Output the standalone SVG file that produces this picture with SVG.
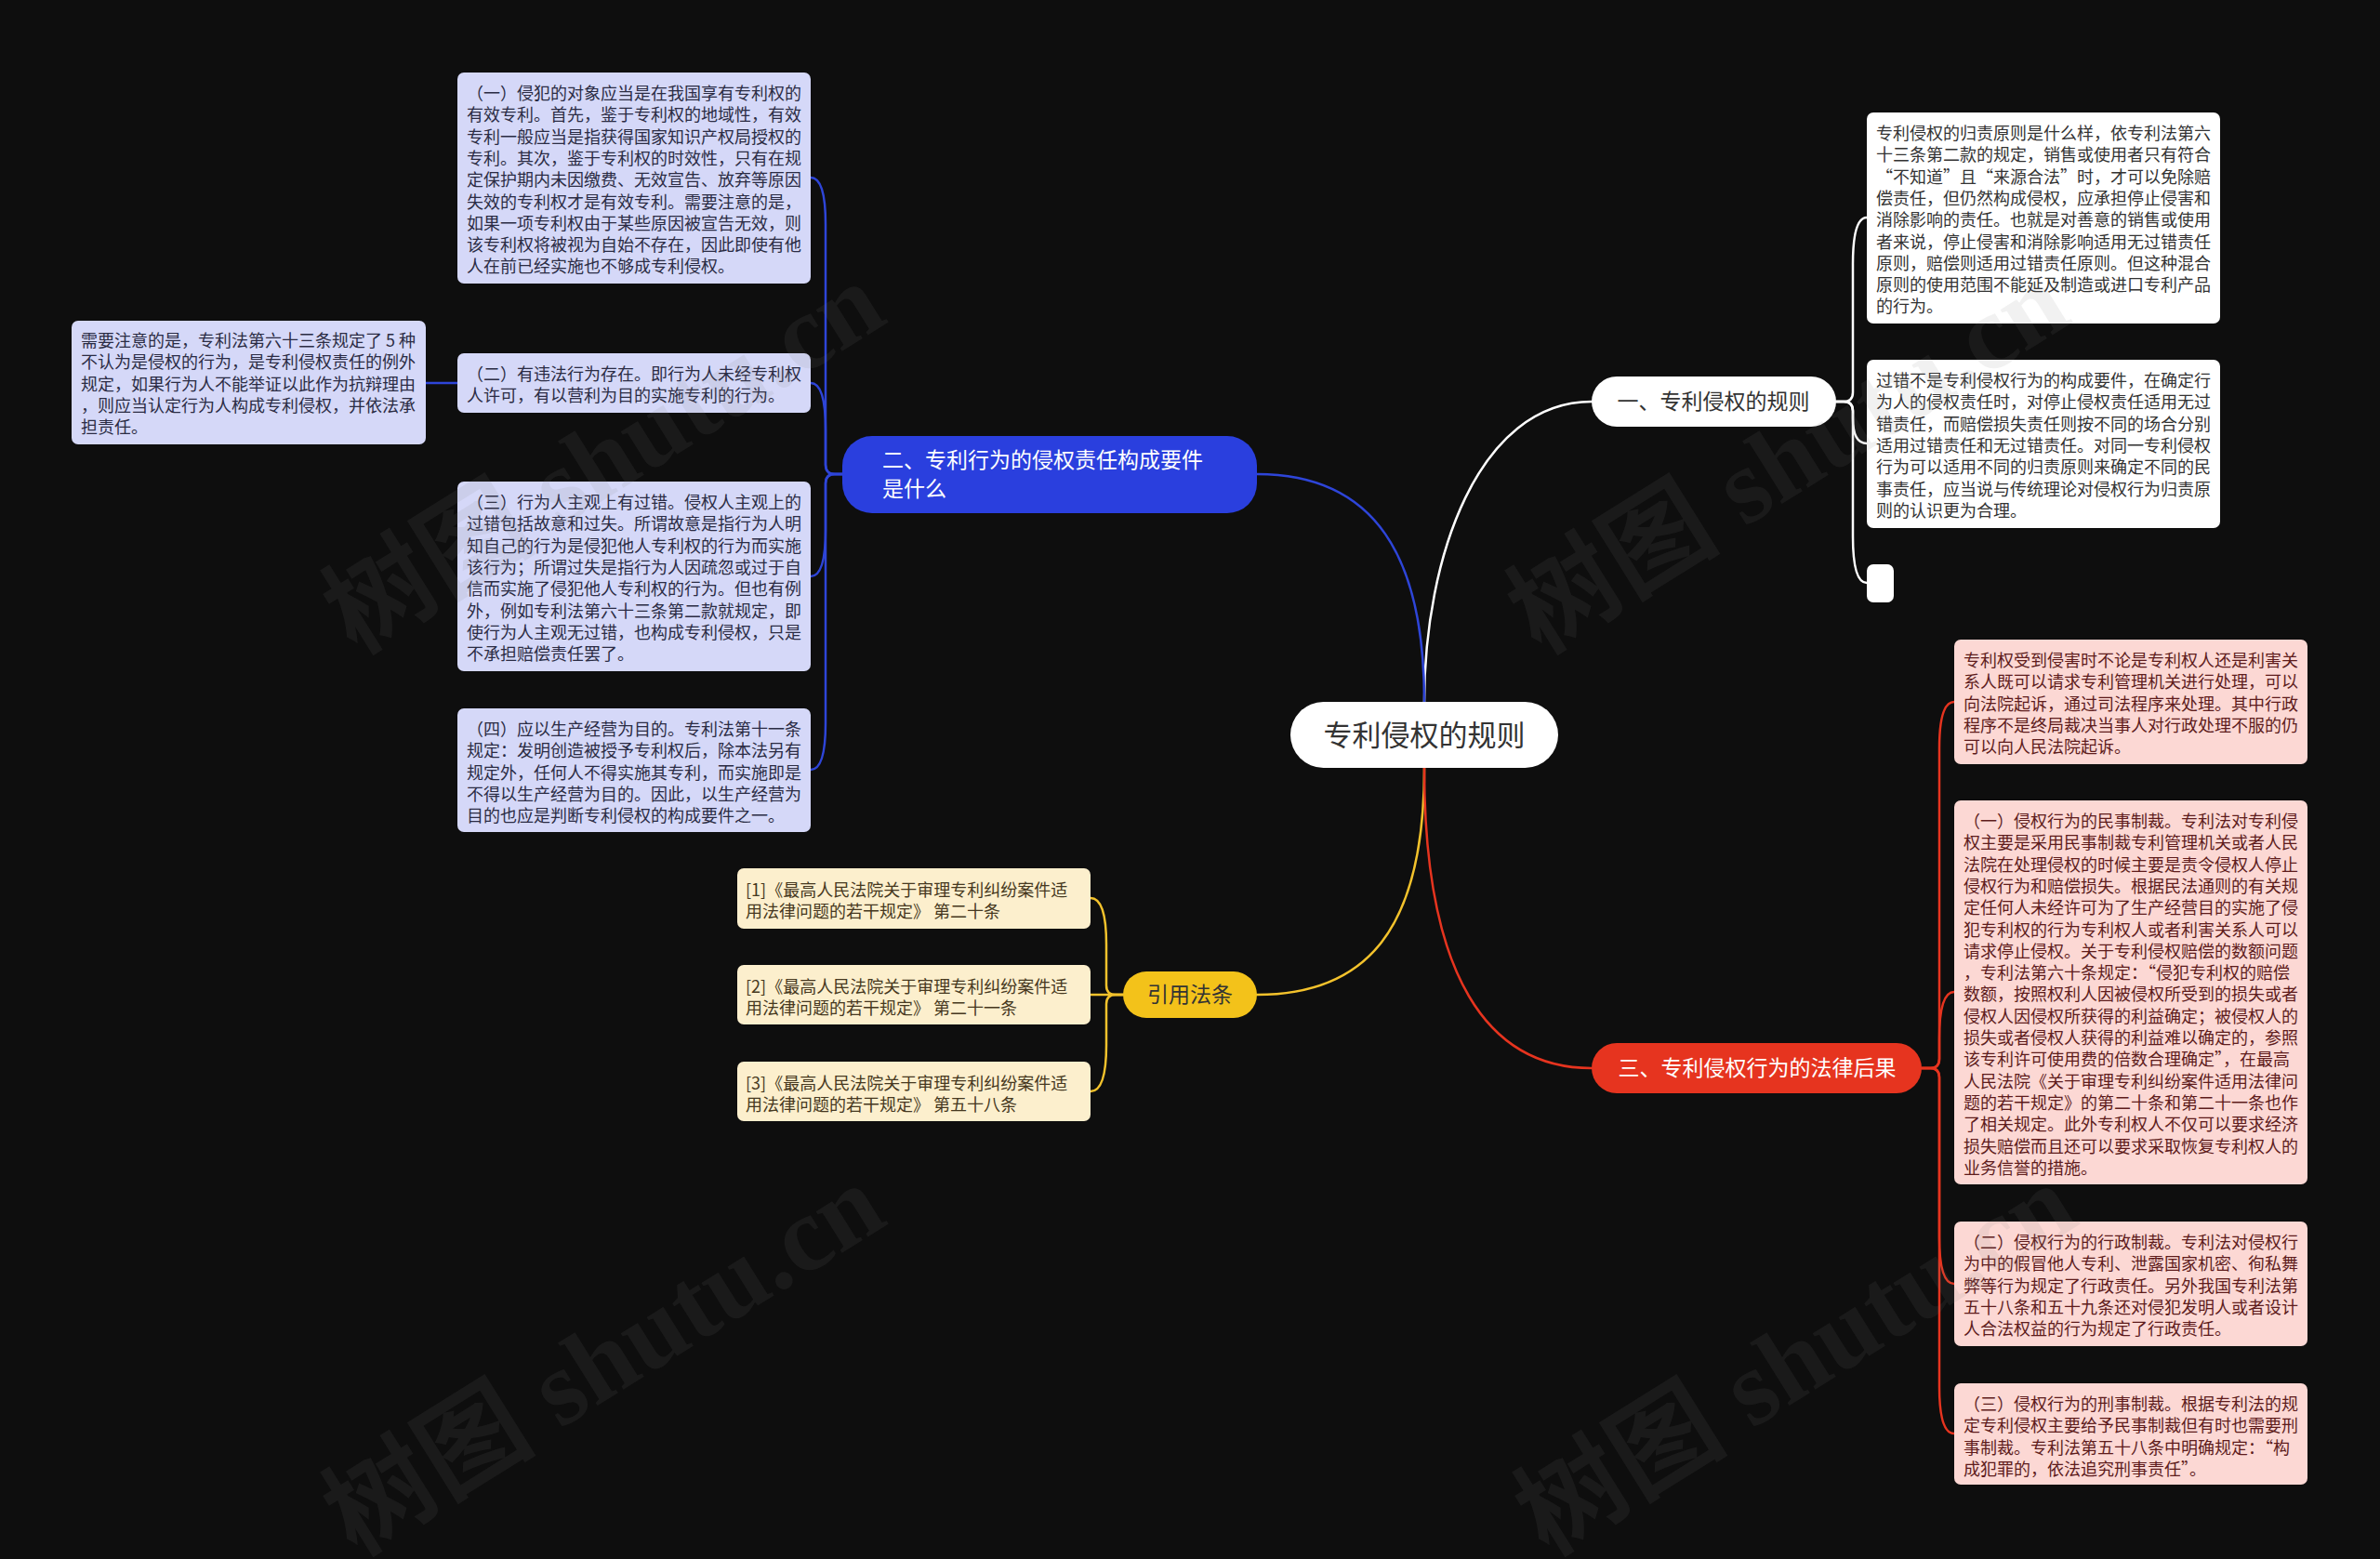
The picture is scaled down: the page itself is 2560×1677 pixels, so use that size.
<svg xmlns="http://www.w3.org/2000/svg" width="2560" height="1677" viewBox="0 0 2560 1677">
<style>
.t{font-family:"Noto Sans CJK SC","Noto Sans",sans-serif;font-size:18px}
.tb{fill:#2b2c44}.tw{fill:#333333}.tp{fill:#5e1c1c}.ty{fill:#463820}
.n{font-family:"Noto Sans CJK SC","Noto Sans",sans-serif;font-size:23px}
.c{fill:none;stroke-width:2.5;stroke-linecap:round}
.wm{font-family:"Liberation Serif","Noto Sans CJK SC",serif;font-size:115px;fill:#7f7f7f;fill-opacity:0.11;font-weight:bold}
</style>
<rect x="0" y="0" width="2560" height="1677" fill="#0e0e0e"/>
<g id="connectors">
<path class="c" stroke="#ffffff" stroke-width="3" d="M1532,755 C1532,600 1590,432 1712,432"/>
<path class="c" stroke="#2e45d8" stroke-width="3" d="M1532,755 C1532,600 1480,510 1352,510"/>
<path class="c" stroke="#f3c22c" stroke-width="3" d="M1532,826 C1532,1000 1470,1070 1352,1070"/>
<path class="c" stroke="#e6341f" stroke-width="3" d="M1532,826 C1532,1050 1600,1149 1712,1149"/>
<path class="c" stroke="#ffffff" d="M1975,432 H1983 Q1993,432 1993,422 V284 Q1993,234 2008,234"/>
<path class="c" stroke="#ffffff" d="M1975,432 H1983 Q1993,432 1993,442 V450 Q1993,477 2008,477"/>
<path class="c" stroke="#ffffff" d="M1975,432 H1983 Q1993,432 1993,442 V577 Q1993,627 2008,627"/>
<path class="c" stroke="#2e45d8" d="M906,510 H898 Q888,510 888,500 V241 Q888,191 872,191"/>
<path class="c" stroke="#2e45d8" d="M906,510 H898 Q888,510 888,500 V462 Q888,412 872,412"/>
<path class="c" stroke="#2e45d8" d="M906,510 H898 Q888,510 888,520 V570 Q888,620 872,620"/>
<path class="c" stroke="#2e45d8" d="M906,510 H898 Q888,510 888,520 V778 Q888,828 872,828"/>
<path class="c" stroke="#2e45d8" d="M492,412 H458"/>
<path class="c" stroke="#f3c22c" d="M1208,1070 H1200 Q1190,1070 1190,1060 V1016 Q1190,966 1173,966"/>
<path class="c" stroke="#f3c22c" d="M1208,1070 H1173"/>
<path class="c" stroke="#f3c22c" d="M1208,1070 H1200 Q1190,1070 1190,1080 V1124 Q1190,1174 1173,1174"/>
<path class="c" stroke="#e6341f" d="M2067,1149 H2076 Q2086,1149 2086,1139 V805 Q2086,755 2102,755"/>
<path class="c" stroke="#e6341f" d="M2067,1149 H2076 Q2086,1149 2086,1139 V1117 Q2086,1067 2102,1067"/>
<path class="c" stroke="#e6341f" d="M2067,1149 H2076 Q2086,1149 2086,1159 V1331 Q2086,1381 2102,1381"/>
<path class="c" stroke="#e6341f" d="M2067,1149 H2076 Q2086,1149 2086,1159 V1492 Q2086,1542 2102,1542"/>
</g>
<g id="root">
<rect x="1388" y="755" width="288" height="71" rx="35.5" fill="#ffffff"/>
<text x="1532" y="802" text-anchor="middle" font-family="Noto Sans CJK SC, sans-serif" font-size="31" fill="#333333">专利侵权的规则</text>
</g>
<g id="branch1">
<rect x="1712" y="405" width="263" height="54" rx="27" fill="#ffffff"/>
<text class="n" x="1843" y="440" text-anchor="middle" fill="#333333">一、专利侵权的规则</text>
</g>
<g id="branch2">
<rect x="906" y="469" width="446" height="83" rx="32" fill="#2a3fde"/>
<text class="n" fill="#ffffff"><tspan x="949" y="503">二、专利行为的侵权责任构成要件</tspan><tspan x="949" y="534">是什么</tspan></text>
</g>
<g id="branch3">
<rect x="1712" y="1122" width="355" height="54" rx="27" fill="#e6341f"/>
<text class="n" x="1890" y="1157" text-anchor="middle" fill="#ffffff">三、专利侵权行为的法律后果</text>
</g>
<g id="branch4">
<rect x="1208" y="1045" width="144" height="50" rx="25" fill="#f3c21a"/>
<text class="n" x="1280" y="1078" text-anchor="middle" fill="#333333">引用法条</text>
</g>
<g id="w1">
<rect x="2008" y="121" width="380" height="227" rx="7" fill="#ffffff"/>
<text class="t tw"><tspan x="2018" y="150">专利侵权的归责原则是什么样，依专利法第六</tspan><tspan x="2018" dy="23.3">十三条第二款的规定，销售或使用者只有符合</tspan><tspan x="2018" dy="23.3">“不知道”且“来源合法”时，才可以免除赔</tspan><tspan x="2018" dy="23.3">偿责任，但仍然构成侵权，应承担停止侵害和</tspan><tspan x="2018" dy="23.3">消除影响的责任。也就是对善意的销售或使用</tspan><tspan x="2018" dy="23.3">者来说，停止侵害和消除影响适用无过错责任</tspan><tspan x="2018" dy="23.3">原则，赔偿则适用过错责任原则。但这种混合</tspan><tspan x="2018" dy="23.3">原则的使用范围不能延及制造或进口专利产品</tspan><tspan x="2018" dy="23.3">的行为。</tspan></text>
</g>
<g id="w2">
<rect x="2008" y="387" width="380" height="181" rx="7" fill="#ffffff"/>
<text class="t tw"><tspan x="2018" y="416">过错不是专利侵权行为的构成要件，在确定行</tspan><tspan x="2018" dy="23.3">为人的侵权责任时，对停止侵权责任适用无过</tspan><tspan x="2018" dy="23.3">错责任，而赔偿损失责任则按不同的场合分别</tspan><tspan x="2018" dy="23.3">适用过错责任和无过错责任。对同一专利侵权</tspan><tspan x="2018" dy="23.3">行为可以适用不同的归责原则来确定不同的民</tspan><tspan x="2018" dy="23.3">事责任，应当说与传统理论对侵权行为归责原</tspan><tspan x="2018" dy="23.3">则的认识更为合理。</tspan></text>
</g>
<g id="w3">
<rect x="2008" y="607" width="29" height="41" rx="7" fill="#ffffff"/>
</g>
<g id="b1">
<rect x="492" y="78" width="380" height="227" rx="7" fill="#d5d8f8"/>
<text class="t tb"><tspan x="502" y="107">（一）侵犯的对象应当是在我国享有专利权的</tspan><tspan x="502" dy="23.3">有效专利。首先，鉴于专利权的地域性，有效</tspan><tspan x="502" dy="23.3">专利一般应当是指获得国家知识产权局授权的</tspan><tspan x="502" dy="23.3">专利。其次，鉴于专利权的时效性，只有在规</tspan><tspan x="502" dy="23.3">定保护期内未因缴费、无效宣告、放弃等原因</tspan><tspan x="502" dy="23.3">失效的专利权才是有效专利。需要注意的是，</tspan><tspan x="502" dy="23.3">如果一项专利权由于某些原因被宣告无效，则</tspan><tspan x="502" dy="23.3">该专利权将被视为自始不存在，因此即使有他</tspan><tspan x="502" dy="23.3">人在前已经实施也不够成专利侵权。</tspan></text>
</g>
<g id="b2">
<rect x="492" y="380" width="380" height="64" rx="7" fill="#d5d8f8"/>
<text class="t tb"><tspan x="502" y="409">（二）有违法行为存在。即行为人未经专利权</tspan><tspan x="502" dy="23.3">人许可，有以营利为目的实施专利的行为。</tspan></text>
</g>
<g id="b2note">
<rect x="77" y="345" width="381" height="133" rx="7" fill="#d5d8f8"/>
<text class="t tb"><tspan x="87" y="373">需要注意的是，专利法第六十三条规定了 5 种</tspan><tspan x="87" dy="23.3">不认为是侵权的行为，是专利侵权责任的例外</tspan><tspan x="87" dy="23.3">规定，如果行为人不能举证以此作为抗辩理由</tspan><tspan x="87" dy="23.3">，则应当认定行为人构成专利侵权，并依法承</tspan><tspan x="87" dy="23.3">担责任。</tspan></text>
</g>
<g id="b3">
<rect x="492" y="518" width="380" height="204" rx="7" fill="#d5d8f8"/>
<text class="t tb"><tspan x="502" y="547">（三）行为人主观上有过错。侵权人主观上的</tspan><tspan x="502" dy="23.3">过错包括故意和过失。所谓故意是指行为人明</tspan><tspan x="502" dy="23.3">知自己的行为是侵犯他人专利权的行为而实施</tspan><tspan x="502" dy="23.3">该行为；所谓过失是指行为人因疏忽或过于自</tspan><tspan x="502" dy="23.3">信而实施了侵犯他人专利权的行为。但也有例</tspan><tspan x="502" dy="23.3">外，例如专利法第六十三条第二款就规定，即</tspan><tspan x="502" dy="23.3">使行为人主观无过错，也构成专利侵权，只是</tspan><tspan x="502" dy="23.3">不承担赔偿责任罢了。</tspan></text>
</g>
<g id="b4">
<rect x="492" y="762" width="380" height="133" rx="7" fill="#d5d8f8"/>
<text class="t tb"><tspan x="502" y="791">（四）应以生产经营为目的。专利法第十一条</tspan><tspan x="502" dy="23.3">规定：发明创造被授予专利权后，除本法另有</tspan><tspan x="502" dy="23.3">规定外，任何人不得实施其专利，而实施即是</tspan><tspan x="502" dy="23.3">不得以生产经营为目的。因此，以生产经营为</tspan><tspan x="502" dy="23.3">目的也应是判断专利侵权的构成要件之一。</tspan></text>
</g>
<g id="y1">
<rect x="793" y="934" width="380" height="65" rx="7" fill="#fcefcd"/>
<text class="t ty"><tspan x="802" y="964">[1]《最高人民法院关于审理专利纠纷案件适</tspan><tspan x="802" dy="23">用法律问题的若干规定》 第二十条</tspan></text>
</g>
<g id="y2">
<rect x="793" y="1038" width="380" height="64" rx="7" fill="#fcefcd"/>
<text class="t ty"><tspan x="802" y="1068">[2]《最高人民法院关于审理专利纠纷案件适</tspan><tspan x="802" dy="23">用法律问题的若干规定》 第二十一条</tspan></text>
</g>
<g id="y3">
<rect x="793" y="1142" width="380" height="64" rx="7" fill="#fcefcd"/>
<text class="t ty"><tspan x="802" y="1172">[3]《最高人民法院关于审理专利纠纷案件适</tspan><tspan x="802" dy="23">用法律问题的若干规定》 第五十八条</tspan></text>
</g>
<g id="p1">
<rect x="2102" y="688" width="380" height="134" rx="7" fill="#fcd8d4"/>
<text class="t tp"><tspan x="2112" y="717">专利权受到侵害时不论是专利权人还是利害关</tspan><tspan x="2112" dy="23.3">系人既可以请求专利管理机关进行处理，可以</tspan><tspan x="2112" dy="23.3">向法院起诉，通过司法程序来处理。其中行政</tspan><tspan x="2112" dy="23.3">程序不是终局裁决当事人对行政处理不服的仍</tspan><tspan x="2112" dy="23.3">可以向人民法院起诉。</tspan></text>
</g>
<g id="p2">
<rect x="2102" y="861" width="380" height="413" rx="7" fill="#fcd8d4"/>
<text class="t tp"><tspan x="2112" y="890">（一）侵权行为的民事制裁。专利法对专利侵</tspan><tspan x="2112" dy="23.3">权主要是采用民事制裁专利管理机关或者人民</tspan><tspan x="2112" dy="23.3">法院在处理侵权的时候主要是责令侵权人停止</tspan><tspan x="2112" dy="23.3">侵权行为和赔偿损失。根据民法通则的有关规</tspan><tspan x="2112" dy="23.3">定任何人未经许可为了生产经营目的实施了侵</tspan><tspan x="2112" dy="23.3">犯专利权的行为专利权人或者利害关系人可以</tspan><tspan x="2112" dy="23.3">请求停止侵权。关于专利侵权赔偿的数额问题</tspan><tspan x="2112" dy="23.3">，专利法第六十条规定：“侵犯专利权的赔偿</tspan><tspan x="2112" dy="23.3">数额，按照权利人因被侵权所受到的损失或者</tspan><tspan x="2112" dy="23.3">侵权人因侵权所获得的利益确定；被侵权人的</tspan><tspan x="2112" dy="23.3">损失或者侵权人获得的利益难以确定的，参照</tspan><tspan x="2112" dy="23.3">该专利许可使用费的倍数合理确定”，在最高</tspan><tspan x="2112" dy="23.3">人民法院《关于审理专利纠纷案件适用法律问</tspan><tspan x="2112" dy="23.3">题的若干规定》的第二十条和第二十一条也作</tspan><tspan x="2112" dy="23.3">了相关规定。此外专利权人不仅可以要求经济</tspan><tspan x="2112" dy="23.3">损失赔偿而且还可以要求采取恢复专利权人的</tspan><tspan x="2112" dy="23.3">业务信誉的措施。</tspan></text>
</g>
<g id="p3">
<rect x="2102" y="1314" width="380" height="134" rx="7" fill="#fcd8d4"/>
<text class="t tp"><tspan x="2112" y="1343">（二）侵权行为的行政制裁。专利法对侵权行</tspan><tspan x="2112" dy="23.3">为中的假冒他人专利、泄露国家机密、徇私舞</tspan><tspan x="2112" dy="23.3">弊等行为规定了行政责任。另外我国专利法第</tspan><tspan x="2112" dy="23.3">五十八条和五十九条还对侵犯发明人或者设计</tspan><tspan x="2112" dy="23.3">人合法权益的行为规定了行政责任。</tspan></text>
</g>
<g id="p4">
<rect x="2102" y="1488" width="380" height="109" rx="7" fill="#fcd8d4"/>
<text class="t tp"><tspan x="2112" y="1517">（三）侵权行为的刑事制裁。根据专利法的规</tspan><tspan x="2112" dy="23.3">定专利侵权主要给予民事制裁但有时也需要刑</tspan><tspan x="2112" dy="23.3">事制裁。专利法第五十八条中明确规定：“构</tspan><tspan x="2112" dy="23.3">成犯罪的，依法追究刑事责任”。</tspan></text>
</g>
<g id="watermarks">
<text class="wm" x="653" y="530" text-anchor="middle" transform="rotate(-32 653 498)">树图 shutu.cn</text>
<text class="wm" x="1927" y="530" text-anchor="middle" transform="rotate(-32 1927 498)">树图 shutu.cn</text>
<text class="wm" x="653" y="1500" text-anchor="middle" transform="rotate(-32 653 1468)">树图 shutu.cn</text>
<text class="wm" x="1935" y="1500" text-anchor="middle" transform="rotate(-32 1935 1468)">树图 shutu.cn</text>
</g>
</svg>
